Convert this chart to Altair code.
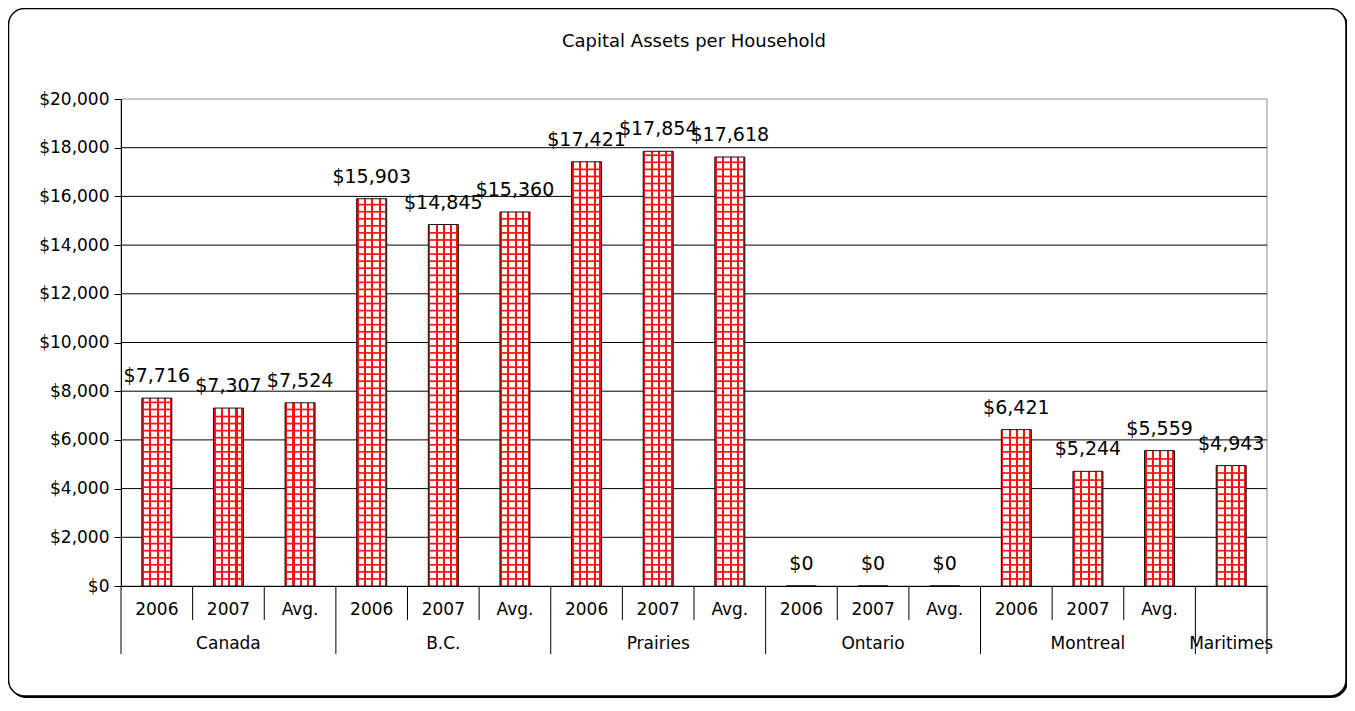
import altair as alt
import pandas as pd

# ---------------- data ----------------
title_text = "Capital Assets per Household"
groups = ["Canada", "Canada", "Canada", "B.C.", "B.C.", "B.C.",
          "Prairies", "Prairies", "Prairies", "Ontario", "Ontario", "Ontario",
          "Montreal", "Montreal", "Montreal", "Maritimes"]
sub_labels = ["2006", "2007", "Avg.", "2006", "2007", "Avg.",
              "2006", "2007", "Avg.", "2006", "2007", "Avg.",
              "2006", "2007", "Avg.", ""]
bar_values = [7716, 7307, 7524, 15903, 14845, 15360,
              17421, 17854, 17618, 0, 0, 0,
              6421, 4710, 5559, 4943]
value_labels = ["$7,716", "$7,307", "$7,524", "$15,903", "$14,845", "$15,360",
                "$17,421", "$17,854", "$17,618", "$0", "$0", "$0",
                "$6,421", "$5,244", "$5,559", "$4,943"]
y_ticks = [0, 2000, 4000, 6000, 8000, 10000, 12000, 14000, 16000, 18000, 20000]

# ---------------- layout / style ----------------
W, H = 1146, 487
FONT = "DejaVu Sans"
RED = "#ff1010"
BAR_W = 30
PATTERN_STEP = 290  # spacing of the red cross-hatch rows (data units)

n = len(bar_values)
bars = pd.DataFrame({
    "pos": [i + 0.5 for i in range(n)],
    "val": bar_values,
    "label": value_labels,
    "sub": sub_labels,
    "group": groups,
})

# group centres and divider positions
grp_rows, bounds_long, bounds_short = [], [0.0], []
start = 0
for i in range(1, n + 1):
    if i == n or groups[i] != groups[start]:
        grp_rows.append({"pos": (start + i) / 2.0, "group": groups[start]})
        bounds_long.append(float(i))
        bounds_short.extend(float(k) for k in range(start + 1, i))
        start = i
grp_df = pd.DataFrame(grp_rows)
long_df = pd.DataFrame({"pos": bounds_long})
short_df = pd.DataFrame({"pos": bounds_short})

# horizontal rows of the cross-hatch pattern inside each bar
hatch_rows = []
for p, v in zip(bars["pos"], bars["val"]):
    k = 1
    while k * PATTERN_STEP < v - 0.3 * PATTERN_STEP:
        hatch_rows.append({"pos": p, "val": k * PATTERN_STEP})
        k += 1
hatch_df = pd.DataFrame(hatch_rows)

grid_df = pd.DataFrame({"val": [t for t in y_ticks if 0 < t < max(y_ticks)]})
one = pd.DataFrame({"a": [0]})

xs = alt.Scale(domain=[0, n], nice=False, zero=False, padding=0)
ys = alt.Scale(domain=[0, max(y_ticks)], nice=False, padding=0)
x_axis = alt.Axis(labels=False, ticks=False, grid=False, title=None,
                  domainColor="black", domainWidth=1, zindex=1)
y_axis = alt.Axis(values=y_ticks, format="$,.0f", grid=False, title=None,
                  domainColor="black", domainWidth=1, tickColor="black",
                  tickSize=7, labelFont=FONT, labelFontSize=17,
                  labelColor="black", labelPadding=5, zindex=1)
X = alt.X("pos:Q", scale=xs, axis=x_axis)
Y = alt.Y("val:Q", scale=ys, axis=y_axis)

# vertical red stripes via a hard-stop gradient
stripes = [(0.0, 0.07), (0.245, 0.315), (0.49, 0.56), (0.735, 0.805), (0.93, 1.0)]
stops = []
for a, b in stripes:
    if a > 0:
        stops.append(alt.GradientStop(offset=a, color="white"))
    stops.append(alt.GradientStop(offset=a, color=RED))
    stops.append(alt.GradientStop(offset=b, color=RED))
    if b < 1.0:
        stops.append(alt.GradientStop(offset=b, color="white"))
grad = alt.Gradient(gradient="linear", stops=stops, x1=0, x2=1, y1=0, y2=0)

# ---------------- layers ----------------
shadow = alt.Chart(one).mark_rect(cornerRadius=16, fill="black", stroke="black",
                                   strokeWidth=1).encode(
    x=alt.value(-111), x2=alt.value(W + 80.5),
    y=alt.value(-89), y2=alt.value(H + 111.5))
frame = alt.Chart(one).mark_rect(cornerRadius=16, fill="white", stroke="black",
                                  strokeWidth=1.5).encode(
    x=alt.value(-112.5), x2=alt.value(W + 79),
    y=alt.value(-90.5), y2=alt.value(H + 110))
plot_border = alt.Chart(one).mark_rect(fill="transparent", stroke="#8c8c8c",
                                        strokeWidth=1).encode(
    x=alt.value(0), x2=alt.value(W), y=alt.value(0), y2=alt.value(H))
gridlines = alt.Chart(grid_df).mark_rule(color="black", strokeWidth=1).encode(y=Y)

bar_fill = alt.Chart(bars).mark_bar(size=BAR_W, fill=grad, strokeWidth=0).encode(x=X, y=Y)
hatch = alt.Chart(hatch_df).mark_tick(orient="horizontal", size=BAR_W, thickness=1.7,
                                      color=RED, opacity=1).encode(x=X, y=Y)
bar_outline = alt.Chart(bars).mark_bar(size=BAR_W, fill="transparent", stroke="#111",
                                       strokeWidth=1).encode(x=X, y=Y)
labels = alt.Chart(bars).mark_text(font=FONT, fontSize=19, color="black",
                                   baseline="middle", dy=-22).encode(
    x=X, y=Y, text="label:N")

div_long = alt.Chart(long_df).mark_rule(color="black", strokeWidth=1).encode(
    x=X, y=alt.value(H), y2=alt.value(H + 68))
div_short = alt.Chart(short_df).mark_rule(color="black", strokeWidth=1).encode(
    x=X, y=alt.value(H), y2=alt.value(H + 34))
sub_text = alt.Chart(bars).mark_text(font=FONT, fontSize=17, color="black",
                                     baseline="middle").encode(
    x=X, y=alt.value(H + 24), text="sub:N")
grp_text = alt.Chart(grp_df).mark_text(font=FONT, fontSize=17, color="black",
                                       baseline="middle").encode(
    x=X, y=alt.value(H + 58), text="group:N")
title = alt.Chart(one).mark_text(font=FONT, fontSize=18, color="black",
                                 baseline="middle").encode(
    x=alt.value(W / 2), y=alt.value(-57), text=alt.value(title_text))

chart = alt.layer(
    shadow, frame, plot_border, gridlines,
    bar_fill, hatch, bar_outline, labels,
    div_long, div_short, sub_text, grp_text, title,
).properties(
    width=W, height=H,
    padding={"left": 113, "top": 91, "right": 80, "bottom": 112},
    autosize=alt.AutoSizeParams(type="none"),
).configure_view(stroke="transparent")

chart.save("out.html", embed_options={"renderer": "svg", "actions": False})
